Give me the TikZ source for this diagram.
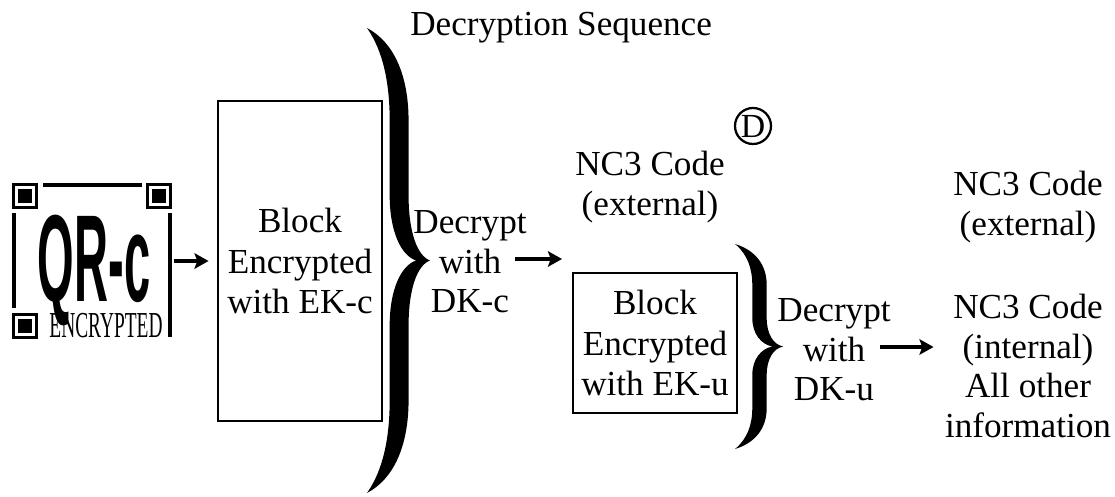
\documentclass[tikz,border=0pt]{standalone}
\usepackage{fontspec}
\setmainfont{Liberation Serif}
\setsansfont{Liberation Sans}
\usetikzlibrary{arrows.meta,positioning}

\tikzset{
  lbl/.style={align=center,inner sep=0pt,font=\fontsize{25}{28}\selectfont},
  blk/.style={draw,line width=2pt,align=center,inner sep=0pt,
    font=\fontsize{25}{28.5}\selectfont},
  flow/.style={->,line width=2.6pt},
  finder/.style={line width=2.2pt},
  curly/.pic={
    \fill (0,0) .. controls (0.42,0.03) and (0.66,0.1) .. (0.66,0.2)
      -- (0.66,0.36) .. controls (0.66,0.44) and (0.8,0.49) .. (1,0.5)
      .. controls (0.8,0.51) and (0.66,0.56) .. (0.66,0.64)
      -- (0.66,0.8) .. controls (0.66,0.9) and (0.42,0.97) .. (0,1)
      .. controls (0.26,0.95) and (0.36,0.88) .. (0.36,0.8)
      -- (0.36,0.64) .. controls (0.36,0.56) and (0.55,0.51) .. (0.78,0.5)
      .. controls (0.55,0.49) and (0.36,0.44) .. (0.36,0.36)
      -- (0.36,0.2) .. controls (0.36,0.12) and (0.26,0.05) .. (0,0) -- cycle;
  }
}

\begin{document}
\begin{tikzpicture}[x=0.025cm,y=-0.025cm,>={Stealth[length=10pt,width=11pt,inset=2pt]}]

\useasboundingbox (0,0) rectangle (1115,497);

% QR-c icon
\node (qr) [minimum width=4.1cm,minimum height=3.9cm,inner sep=0pt] at (92,261) {};

\foreach \x/\y in {12/183,146/183,12/313} {
  \draw [finder] (\x+1.5,\y+1.5) rectangle ++(23,23);
  \fill (\x+6,\y+6) rectangle ++(14,14);
}
\fill (43,183) rectangle (142,187);
\fill (12,213) rectangle (16,308);
\fill (168,213) rectangle (172,337);

\node (qrtext) [anchor=base,inner sep=0pt] at (94,302)
  {\scalebox{0.38}[1]{\fontsize{88}{88}\selectfont\sffamily\bfseries QR-c}};
\node (enc) [anchor=base,inner sep=0pt] at (106,337)
  {\scalebox{0.53}[1]{\fontsize{26}{26}\selectfont ENCRYPTED}};

%%%%%%%%%%%%%%%%%%%%%%%%%%%%%%%%%%%%%%%%%%

\node (blockc) [blk,minimum width=4.1cm,minimum height=8cm] at (300,261)
  {Block\\Encrypted\\with EK-c};
\draw [flow,shorten >=0.2cm] (qr.east) -- (blockc.west);

\pic [xscale=63,yscale=465] at (367,28) {curly};
\node (seq) [lbl,anchor=base west] at (410,36) {Decryption Sequence};

\node (decc) [lbl] at (470,262) {Decrypt\\with\\DK-c};
\coordinate (ca) at (515,259);
\coordinate (cb) at (562,259);
\draw [flow] (ca) -- (cb);

%%%%%%%%%%%%%%%%%%%%%%%%%%%%%%%%%%%%%%%%%%

\node (extc) [lbl] at (650,187) {NC3 Code\\(external)};
\node (dmark) [circle,draw,line width=1.6pt,minimum size=0.9cm,inner sep=0pt,
  font=\fontsize{24}{24}\selectfont] at (753,126) {D};

\node (blocku) [blk,minimum width=4.1cm,minimum height=3.5cm] at (655,343)
  {Block\\Encrypted\\with EK-u};
\pic [xscale=48,yscale=205] at (735,244) {curly};

\node (decu) [lbl] at (834,350) {Decrypt\\with\\DK-u};

%%%%%%%%%%%%%%%%%%%%%%%%%%%%%%%%%%%%%%%%%%

\node (extu) [lbl] at (1028,207) {NC3 Code\\(external)};
\node (intu) [lbl] at (1028,366) {NC3 Code\\(internal)\\All other\\information};

\coordinate (ua) at (880,347);
\draw [flow,shorten >=0.28cm] (ua) -- (intu.west |- ua);

\end{tikzpicture}
\end{document}
